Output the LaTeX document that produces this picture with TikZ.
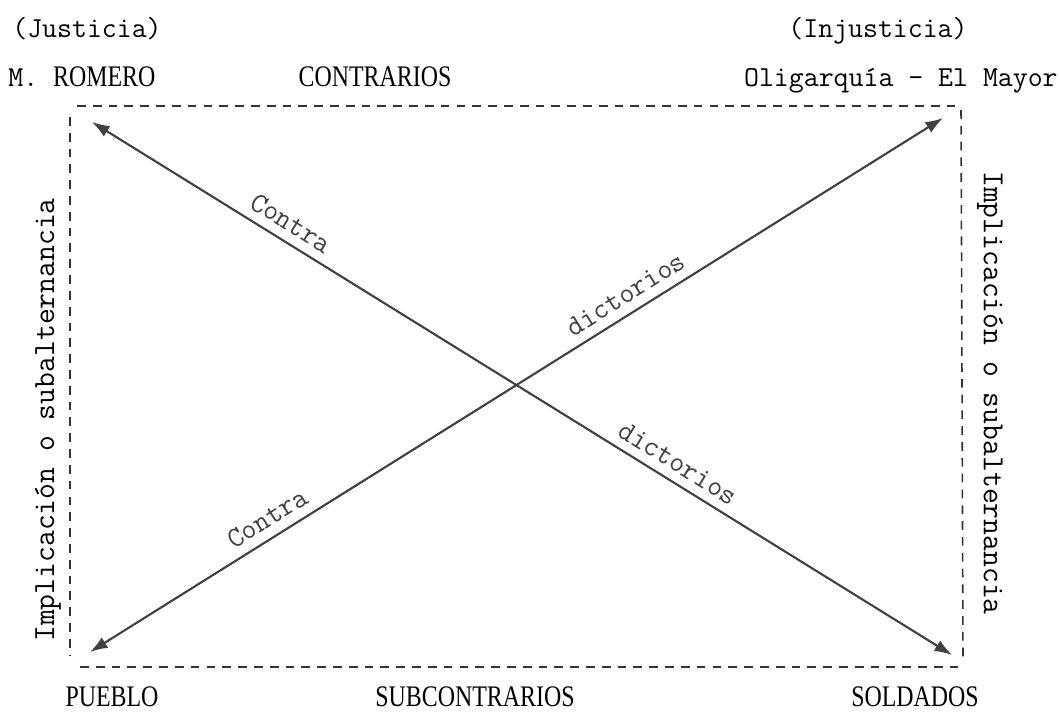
\documentclass[tikz,border=0pt]{standalone}
\usepackage{fontspec}
\newfontfamily\capsfont[FakeStretch=0.8]{Liberation Serif}
\usetikzlibrary{arrows.meta,positioning}

\begin{document}
\begin{tikzpicture}[
    x=0.02cm, y=-0.02cm,
    typed/.style={font=\fontsize{16.5}{20}\selectfont\ttfamily, inner sep=0pt, anchor=base},
    caps/.style={font=\fontsize{17}{20}\selectfont\capsfont, inner sep=0pt, anchor=base},
    side/.style={font=\fontsize{17.5}{20}\selectfont\ttfamily, inner sep=0pt},
    diag/.style={font=\fontsize{16.5}{20}\selectfont\ttfamily, sloped, above, inner sep=5pt},
    frame/.style={dash pattern=on 5pt off 4pt, line width=0.9pt, black!80},
    arrow/.style={line width=1.2pt, black!75, {Latex[length=10pt,width=7pt]}-{Latex[length=10pt,width=7pt]}}
]
\useasboundingbox (0,0) rectangle (1060,712);

% corners of the square
\coordinate (romero) at (92,122);
\coordinate (oligarquia) at (943,118);
\coordinate (pueblo) at (90,652);
\coordinate (soldados) at (952,655);

% top labels
\node (justicia) [typed] at (87,38) {(Justicia)};
\node (injusticia) [typed] at (878,38) {(Injusticia)};
\node (mromero) [typed, anchor=base west] at (8,87) {M. {\capsfont\fontsize{17}{20}\selectfont ROMERO}};
\node (contrarios) [caps] at (375,87) {CONTRARIOS};
\node (olig) [typed, anchor=base east] at (1058,87) {Oligarquía - El Mayor};

% bottom labels
\node (lpueblo) [caps] at (112,706) {PUEBLO};
\node (subcontrarios) [caps] at (475,706) {SUBCONTRARIOS};
\node (lsoldados) [caps] at (915,706) {SOLDADOS};

% side labels
\node (implizq) [side, rotate=90] at (48,420) {Implicación o subalternancia};
\node (implder) [side, rotate=-90] at (990,393) {Implicación o subalternancia};

% dashed frame
\draw[frame] (77,106) -- (957,106);
\draw[frame] (70,117) -- (70,655);
\draw[frame] (80,667) -- (958,667);
\draw[frame] (961,110) -- (963,660);

% diagonals
\draw[arrow] (romero) -- node[diag, pos=0.22] {Contra} node[diag, pos=0.67] {dictorios} (soldados);
\draw[arrow] (pueblo) -- node[diag, pos=0.22] {Contra} node[diag, pos=0.64] {dictorios} (oligarquia);

\end{tikzpicture}
\end{document}
